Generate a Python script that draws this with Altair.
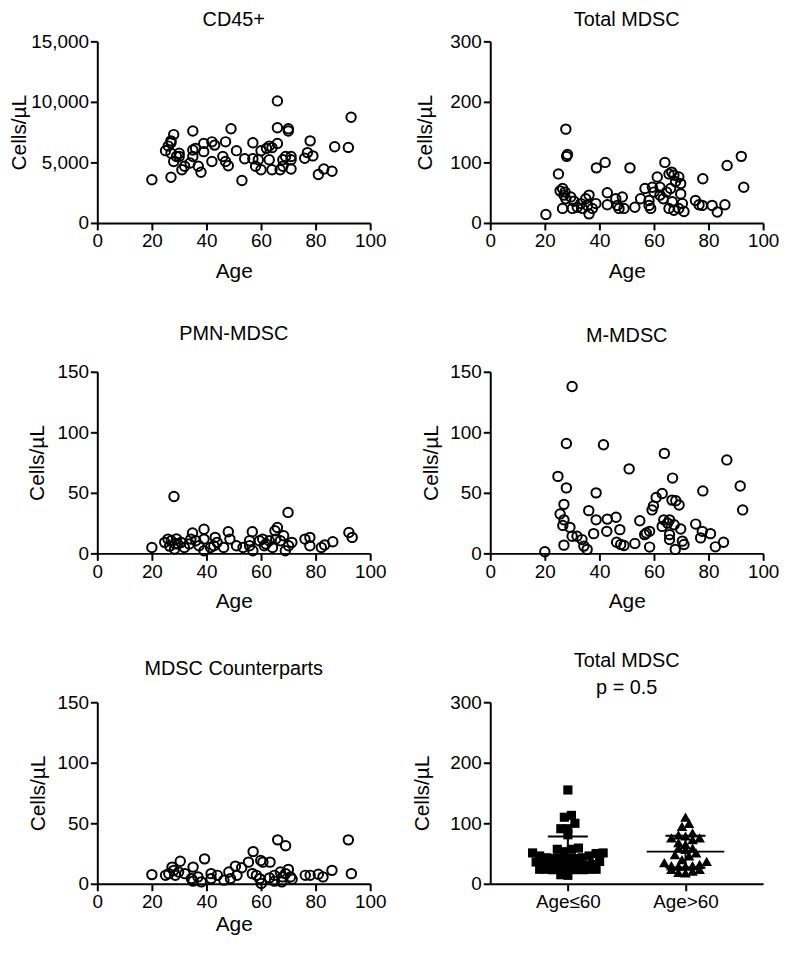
import altair as alt
import pandas as pd
import numpy as np

FONT = "Liberation Sans"
YT = "Cells/\u00b5L"

# ---- CD45+ ----
cd45_age = [20, 27, 25, 26, 27, 28, 27, 27, 29, 28, 30, 30, 31, 32, 34, 35, 35, 35, 36, 37, 38, 39, 39,
            42, 43, 42, 47, 46, 47, 48, 49, 51, 53, 54, 57, 57, 58, 59, 60, 60, 62, 63, 64, 66, 63, 64,
            66, 66, 67, 68, 68, 69, 70, 70, 71, 71, 71, 76, 77, 78, 79, 81, 83, 86, 87, 92, 93]
cd45_val = [3570, 3780, 5970, 6350, 6620, 7300, 6780, 5760, 5490, 5080, 5760, 5490, 4400, 4680, 4950,
            7600, 6030, 5490, 6160, 4680, 4190, 5890, 6570, 6700, 6430, 5080, 6700, 5490, 5080, 4730,
            7780, 5970, 3510, 5300, 6620, 5300, 4680, 5220, 4400, 5970, 6160, 6350, 6220, 6570, 5220,
            4400, 10080, 7860, 4400, 5220, 4680, 5490, 7780, 7600, 5220, 4460, 5490, 5350, 5810, 6780,
            5540, 4000, 4460, 4270, 6300, 6240, 8730]

# ---- Total MDSC ----
tot_age = [20.4, 25, 27.7, 28, 28.3, 25.6, 26.5, 27, 27.4, 27.7, 26.5, 29.5, 30.1, 30.7, 31.9, 33.2,
           33.8, 35, 35.6, 36.2, 36.2, 37.4, 38.7, 38.9, 42.1, 42.9, 42.9, 46, 46.6, 47.2, 48.4, 49,
           51.2, 53, 55.1, 56.7, 58.2, 58.8, 58.2, 59.4, 60,
           61.2, 64, 62.2, 62.2, 63.4, 64.6, 65.5, 66.5, 67.3, 67.9, 69.1, 69.8, 69.8, 66.1, 66.7, 65.5,
           67.3, 69.1, 70.4, 71, 75.2, 76.5, 77.7, 77.9, 81.3, 83.2, 86, 86.8, 92, 92.9]
tot_val = [14, 81, 155, 110, 113, 53, 57, 46, 51, 40, 24, 43, 24, 36, 26, 32, 24, 40, 29, 46, 15, 24,
           32, 91, 100, 50, 30, 40, 29, 24, 43, 24, 91, 26, 40, 57, 29, 24, 37, 59, 51,
           76, 100, 59, 46, 40, 51, 81, 84, 79, 68, 76, 65, 48, 57, 35, 24, 21, 24, 32, 19, 37, 30,
           29, 73, 29, 18, 30, 95, 110, 59]

# ---- PMN-MDSC ----
pmn_age = [20, 28.1, 69.9, 39.1, 66, 65.1, 92.2, 93.4, 34.9, 48, 56.8, 43.2, 76.1, 77.9, 86.3, 25.9,
           24.7, 27.1, 29.5, 30.7, 31.9, 34.3, 36.1, 37.3, 39.1, 41.5, 43.9, 46.3, 48.6, 51, 53.4, 55.8,
           57, 59.4, 60.6, 61.8, 63, 64.2, 65.4, 67.1, 68.3, 68.9, 70.1, 71.3, 77.9, 82.1, 83.3, 28.3,
           33.7, 39.1, 42.7, 55.8, 61.2, 26.5, 28.5, 29]
pmn_val = [4.9, 47, 33.8, 20, 21.4, 18.7, 17.3, 13.2, 16.8, 17.9, 17.9, 13.2, 11.8, 13.2, 9.6, 11.8,
           9.1, 10.4, 7.7, 9.1, 4.9, 11.8, 10.4, 6.3, 2.2, 4.9, 9.1, 4.9, 11.8, 6.3, 4.9, 6.3,
           2.2, 10.4, 11.8, 7.7, 10.4, 4.9, 11.8, 10.4, 14.6, 2.2, 6.3, 9.1, 6.3, 4.9, 6.9, 3.6,
           7.7, 11.8, 6.3, 10.4, 6.3, 6, 8, 12]

# ---- M-MDSC ----
mm_age = [20, 30, 27.9, 41.5, 50.9, 63.8, 66.8, 86.7, 91.6, 92.5, 77.9, 24.8, 27.9, 38.8, 27, 25.6, 27,
          26.6, 29.2, 30, 31.8, 33.6, 34.3, 35.5, 36.1, 37.9, 38.8, 42.7, 42.9, 46.1, 47.5, 46.3, 47.8,
          49, 53, 54.8, 56.6, 57.2, 58.4, 58.4, 59.3, 59.8, 60.8, 63, 63.6, 63, 65, 65.7, 65.7, 66.6,
          68, 69.2, 69.8, 67.8, 70.4, 71, 75.3, 77.7, 77.1, 80.7, 82.5, 85.5, 65.7, 67.4, 27]
mm_val = [1.4, 137.8, 90.8, 89.7, 69.8, 82.6, 62.2, 77.2, 55.7, 35.9, 51.6, 63.6, 54.1, 50, 40.5, 32.6,
          27.7, 23.1, 21.5, 14.1, 14.1, 11.4, 6, 3.3, 35.3, 16.3, 27.7, 18.2, 28.3, 29.9, 19.6, 9.2, 7.3,
          6.5, 8.2, 26.9, 15.5, 16.8, 18.2, 5.2, 35.9, 39.1, 46.2, 49.5, 27.7, 22.3, 25, 27.7, 11.4, 44,
          43.5, 39.9, 20.1, 3.3, 10.1, 7.3, 24.2, 18.2, 12.8, 16.3, 5.4, 9.2, 15.5, 23.6, 6.8]

# ---- MDSC Counterparts ----
cp_age = [20, 66.1, 69, 92, 93.1, 57.1, 39.3, 30.4, 55.4, 59.9, 63.3, 60.7, 35.1, 27.4, 50.6, 52.9,
          48.2, 48.8, 44, 41.7, 38.1, 36.9, 34.5, 32.1, 29.8, 28, 26.2, 25, 28.6, 46.4, 51.2, 56.8,
          58.3, 59.5, 60.1, 63.1, 64.9, 67.1, 67.9, 69, 70, 70.8, 71.4, 76.2, 78, 81, 82.7, 86, 67.6,
          41.7, 64.9, 35.1]
cp_val = [7.6, 36.3, 31.4, 36.3, 8.4, 26.6, 20.6, 18.7, 17.9, 19.2, 17.9, 17.9, 13.8, 13.8, 14.6, 13.3,
          9.8, 4.3, 7, 4.3, 1.6, 5.7, 4.3, 8.4, 9.8, 11.1, 8.4, 7, 7, 3, 7, 8.4,
          7, 4.3, 0.3, 4.9, 7, 9.8, 5.7, 8.4, 11.9, 5.7, 3.8, 7, 7, 7.9, 5.7, 11.1, 1.6,
          8.4, 2.2, 2.2]

groups = ["Age\u226460", "Age>60"]

W, H = 275, 183


def scatter(age, val, title, ymax, ystep, yfmt, title_x, title_offset, age_pad=10):
    df = pd.DataFrame({"age": age, "val": val})
    return alt.Chart(df).mark_point(
        shape="circle", filled=False, size=90, strokeWidth=2, color="black", opacity=1
    ).encode(
        x=alt.X("age:Q", scale=alt.Scale(domain=[0, 100], nice=False, zero=False),
                axis=alt.Axis(title="Age", values=[0, 20, 40, 60, 80, 100], titlePadding=age_pad)),
        y=alt.Y("val:Q", scale=alt.Scale(domain=[0, ymax], nice=False),
                axis=alt.Axis(title=YT, values=list(range(0, ymax + 1, ystep)), format=yfmt,
                              titleX=title_x, titleBaseline="middle")),
    ).properties(width=W, height=H, title=alt.TitleParams(title, offset=title_offset))


def dodge(vals, binw=13.0, step=0.06):
    vals = np.asarray(vals, dtype=float)
    offs = np.zeros(len(vals))
    bins = np.floor(vals / binw)
    for b in np.unique(bins):
        idx = np.where(bins == b)[0]
        idx = idx[np.argsort(vals[idx], kind="stable")]
        n = len(idx)
        slots = np.arange(n) - (n - 1) / 2.0
        slots = slots[np.argsort(np.abs(slots), kind="stable")]
        offs[idx] = slots * step
    return offs


le_vals = [v for a, v in zip(tot_age, tot_val) if a <= 60]
gt_vals = [v for a, v in zip(tot_age, tot_val) if a > 60]
df6 = pd.concat([
    pd.DataFrame({"g": 0, "grp": groups[0], "v": le_vals, "x": 0 + dodge(le_vals)}),
    pd.DataFrame({"g": 1, "grp": groups[1], "v": gt_vals, "x": 1 + dodge(gt_vals)}),
])

xs6 = alt.Scale(domain=[-0.66, 1.66], nice=False, zero=False)
ys6 = alt.Scale(domain=[0, 300], nice=False)
x_axis6 = alt.Axis(title=None, values=[0, 1],
                   labelExpr="datum.value == 0 ? 'Age\u226460' : 'Age>60'")
y_axis6 = alt.Axis(title=YT, values=[0, 100, 200, 300], titleX=-68, titleBaseline="middle")

pts6 = alt.Chart(df6).mark_point(filled=True, opacity=1, color="black").encode(
    x=alt.X("x:Q", scale=xs6, axis=x_axis6),
    y=alt.Y("v:Q", scale=ys6, axis=y_axis6),
    shape=alt.Shape("grp:N", scale=alt.Scale(domain=groups, range=["square", "triangle-up"]), legend=None),
    size=alt.Size("grp:N", scale=alt.Scale(domain=groups, range=[85, 115]), legend=None),
)
stats = alt.Chart(df6).transform_aggregate(
    m="mean(v)", sd="stdev(v)", groupby=["g"]
).transform_calculate(
    lo="datum.m - datum.sd", hi="datum.m + datum.sd",
    xl="datum.g - 0.33", xr="datum.g + 0.33",
    cl="datum.g - 0.17", cr="datum.g + 0.17",
)
mean_rule = stats.mark_rule(color="black", strokeWidth=2).encode(
    x=alt.X("xl:Q", scale=xs6, title=None), x2="xr:Q", y=alt.Y("m:Q", scale=ys6, title=YT))
sd_rule = stats.mark_rule(color="black", strokeWidth=2).encode(
    x=alt.X("g:Q", scale=xs6, title=None), y=alt.Y("lo:Q", scale=ys6, title=YT), y2="hi:Q")
cap_hi = stats.mark_rule(color="black", strokeWidth=2).encode(
    x=alt.X("cl:Q", scale=xs6, title=None), x2="cr:Q", y=alt.Y("hi:Q", scale=ys6, title=YT))
cap_lo = stats.mark_rule(color="black", strokeWidth=2).encode(
    x=alt.X("cl:Q", scale=xs6, title=None), x2="cr:Q", y=alt.Y("lo:Q", scale=ys6, title=YT))

c6 = alt.layer(pts6, mean_rule, sd_rule, cap_hi, cap_lo).properties(
    width=W, height=H,
    title=alt.TitleParams("Total MDSC", subtitle="p = 0.5", offset=-5, subtitlePadding=7, frame="group"),
)

c1 = scatter(cd45_age, cd45_val, "CD45+", 15000, 5000, ",d", -78, 2)
c2 = scatter(tot_age, tot_val, "Total MDSC", 300, 100, "d", -65, 2)
c3 = scatter(pmn_age, pmn_val, "PMN-MDSC", 150, 50, "d", -60, 19)
c4 = scatter(mm_age, mm_val, "M-MDSC", 150, 50, "d", -59, 17)
c5 = scatter(cp_age, cp_val, "MDSC Counterparts", 150, 50, "d", -59, 14, age_pad=2)

chart = alt.concat(
    c1, c2, c3, c4, c5, c6, columns=2, spacing={"row": 150, "column": 121}, bounds="flush"
).properties(
    padding={"left": 0, "top": -1, "right": 0, "bottom": 0}
).configure_view(stroke=None).configure_axis(
    domainColor="black", domainWidth=2, tickColor="black", tickWidth=2, tickSize=7,
    labelFont=FONT, labelFontSize=19, labelColor="black", labelPadding=2, labelFlush=False,
    titleFont=FONT, titleFontSize=21, titleFontWeight="normal", titleColor="black", grid=False,
).configure_title(
    font=FONT, fontSize=20, fontWeight="normal", color="black", anchor="middle",
    subtitleFont=FONT, subtitleFontSize=20, subtitleColor="black",
)

chart.save("out.html", embed_options={"renderer": "svg", "actions": False})
